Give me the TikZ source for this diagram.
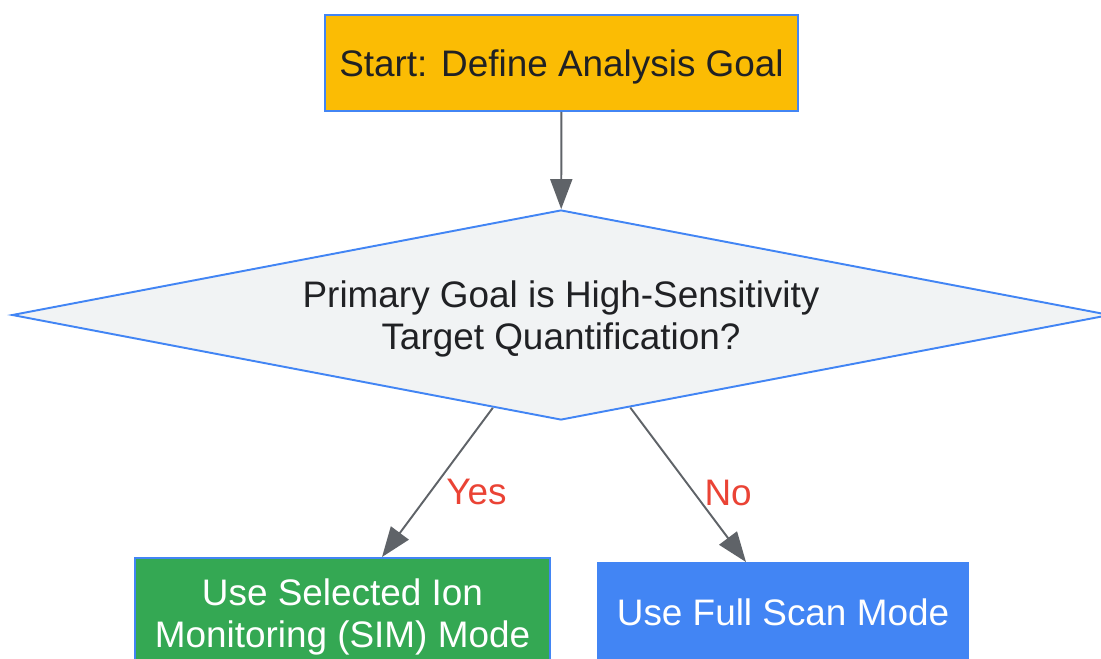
\documentclass[tikz,border=0pt]{standalone}
\usepackage{fontspec}
\setmainfont{Liberation Sans}
\usepackage{tikz}
\usetikzlibrary{arrows.meta,shapes.geometric,calc}

\definecolor{gblue}{HTML}{4285F4}
\definecolor{gyellow}{HTML}{FBBC04}
\definecolor{ggreen}{HTML}{34A853}
\definecolor{ggrey}{HTML}{F1F3F4}
\definecolor{gline}{HTML}{5F6368}
\definecolor{gred}{HTML}{EA4335}
\definecolor{gtext}{HTML}{202124}

\begin{document}
\begin{tikzpicture}[
  font=\fontsize{21}{23.5}\selectfont,
  box/.style={draw=gblue, line width=1.1pt, inner sep=0pt, text depth=0pt, align=center},
  flow/.style={draw=gline, line width=1.1pt, -{Triangle[length=0.6cm,width=0.44cm]}},
  lab/.style={text=gred, inner sep=0pt}
]
\useasboundingbox (0,0) rectangle (22.02,-13.16);

\node[box, fill=gyellow, text=gtext, minimum width=9.46cm, minimum height=1.92cm] (start) at (11.23,-1.26) {Start: Define Analysis Goal};
\node[box, diamond, fill=ggrey, text=gtext, aspect=5.2, minimum width=21.96cm, minimum height=4.2cm] (dec) at (11.22,-6.3) {Primary Goal is High-Sensitivity\\Target Quantification?};
\node[box, fill=ggreen, text=white, minimum width=8.3cm, minimum height=2.2cm] (sim) at (6.85,-12.26) {Use Selected Ion\\Monitoring (SIM) Mode};
\node[box, fill=gblue, text=white, minimum width=7.4cm, minimum height=1.96cm] (full) at (15.66,-12.24) {Use Full Scan Mode};

% branch ends
\coordinate (yesA) at ($(dec.south)!0.124!(dec.west)$);
\coordinate (yesB) at ($(sim.north)+(0.79,0)$);
\coordinate (noA) at ($(dec.south)!0.126!(dec.east)$);
\coordinate (noB) at ($(full.north)+(-0.74,0)$);

\draw[flow] (start) -- (dec);
\draw[flow] (yesA) -- (yesB) node[lab, pos=0.5, xshift=0.78cm, yshift=-0.19cm] {Yes};
\draw[flow] (noA) -- (noB) node[lab, pos=0.5, xshift=0.8cm, yshift=-0.16cm] {No};
\end{tikzpicture}
\end{document}
